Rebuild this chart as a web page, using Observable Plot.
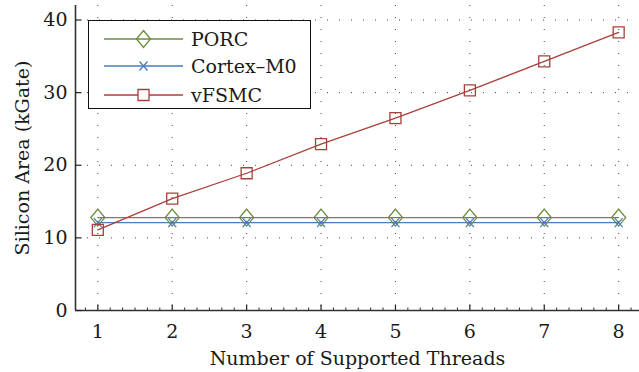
<!DOCTYPE html>
<html>
<head>
<meta charset="utf-8">
<script src="https://cdn.jsdelivr.net/npm/d3@7"></script>
<script src="https://cdn.jsdelivr.net/npm/@observablehq/plot@0.6"></script>
<style>
  body { margin: 0; background: #fff; }
  #wrap { position: relative; width: 639px; height: 372px; font-family: "DejaVu Serif", serif; }
  #legend { position: absolute; left: 88px; top: 20px; width: 221px; height: 87px;
    border: 1.5px solid #111; background: #fff; box-sizing: content-box; }
  .row { position: absolute; left: 0; height: 28px; display: flex; align-items: center; font-size: 19px; color: #1a1a1a; }
  .row svg { display: block; }
</style>
</head>
<body>
<div id="wrap"></div>
<script>
// ---- data ----
const threads = [1, 2, 3, 4, 5, 6, 7, 8];
const seriesNames = ["PORC", "Cortex\u2013M0", "vFSMC"];
const porc   = [12.8, 12.8, 12.8, 12.8, 12.8, 12.8, 12.8, 12.8];
const cortex = [12.1, 12.1, 12.1, 12.1, 12.1, 12.1, 12.1, 12.1];
const vfsmc  = [11.1, 15.4, 18.9, 22.9, 26.5, 30.3, 34.3, 38.3];
const yTicks = [0, 10, 20, 30, 40];
const xLabel = "Number of Supported Threads";
const yLabel = "Silicon Area (kGate)";

const colors = ["#6b8c3c", "#4a7dbd", "#a8403a"];
const values = [porc, cortex, vfsmc];

// custom marker shapes
const diamondSym = {draw(c){c.moveTo(0,-8.5);c.lineTo(7,0);c.lineTo(0,8.5);c.lineTo(-7,0);c.closePath();}};
const timesSym   = {draw(c){c.moveTo(-4,-4.5);c.lineTo(4,4.5);c.moveTo(4,-4.5);c.lineTo(-4,4.5);}};
const squareSym  = {draw(c){c.rect(-5.5,-5.5,11,11);}};
const symbolsArr = [diamondSym, timesSym, squareSym];
const tickUp    = {draw(c){c.moveTo(0,0);c.lineTo(0,-6);}};
const tickUpMin = {draw(c){c.moveTo(0,0);c.lineTo(0,-3);}};
const tickRight = {draw(c){c.moveTo(0,0);c.lineTo(6,0);}};

const rows = seriesNames.map((s, i) => threads.map((t, j) => ({series: s, x: t, y: values[i][j], i})));

const xDomain = [0.7, 8.28];
const minorTicks = d3.range(-1, 45).map(k => 1 + k / 6).filter(v => v > xDomain[0] && v < xDomain[1] && Math.abs(v - Math.round(v)) > 1e-6);

const marks = [
  Plot.gridX(threads, {stroke: "#333", strokeOpacity: 0.9, strokeDasharray: "1,11", strokeWidth: 1}),
  Plot.gridY(yTicks.filter(d => d > 0), {stroke: "#333", strokeOpacity: 0.9, strokeDasharray: "1,11", strokeWidth: 1}),
  Plot.axisX({ticks: threads, tickSize: 0, tickPadding: 14, tickFormat: d => d, label: null}),
  Plot.axisY({ticks: yTicks, tickSize: 0, tickPadding: 8, tickFormat: d => d, label: null}),
  Plot.ruleY([0], {stroke: "#333", strokeWidth: 1.6}),
  Plot.ruleX([xDomain[0]], {stroke: "#333", strokeWidth: 1.6}),
  Plot.dot(threads, {x: d => d, y: 0, symbol: tickUp, stroke: "#222", strokeWidth: 1.2, fill: "none"}),
  Plot.dot(minorTicks, {x: d => d, y: 0, symbol: tickUpMin, stroke: "#333", strokeWidth: 1, fill: "none"}),
  Plot.dot(yTicks, {x: xDomain[0], y: d => d, symbol: tickRight, stroke: "#222", strokeWidth: 1.2, fill: "none"}),
  Plot.text([xLabel], {frameAnchor: "bottom", textAnchor: "middle", lineAnchor: "bottom", dy: 54, fontSize: 19, fill: "#1a1a1a"}),
  Plot.text([yLabel], {frameAnchor: "left", textAnchor: "middle", rotate: -90, lineAnchor: "bottom", dx: -47, fontSize: 19, fill: "#1a1a1a"})
];
rows.forEach((r, i) => {
  marks.push(Plot.line(r, {x: "x", y: "y", stroke: colors[i], strokeWidth: 1.3}));
});
rows.forEach((r, i) => {
  marks.push(Plot.dot(r, {x: "x", y: "y", symbol: symbolsArr[i], stroke: colors[i], strokeWidth: 1.3, fill: "none"}));
});

const chart = Plot.plot({
  width: 639,
  height: 372,
  marginLeft: 75,
  marginRight: 0,
  marginTop: 5,
  marginBottom: 62,
  x: {domain: xDomain},
  y: {domain: [0, 42]},
  style: {fontFamily: "DejaVu Serif, serif", fontSize: "19px", color: "#1a1a1a", background: "#fff", overflow: "visible"},
  marks
});
const wrap = document.getElementById("wrap");
wrap.appendChild(chart);

// legend
const legend = document.createElement("div");
legend.id = "legend";
wrap.appendChild(legend);
const rowTops = [4, 31, 60];
seriesNames.forEach((name, i) => {
  const row = document.createElement("div");
  row.className = "row";
  row.style.top = rowTops[i] + "px";
  const svg = d3.create("svg").attr("width", 102).attr("height", 28);
  svg.append("line").attr("x1", 15).attr("x2", 94).attr("y1", 14).attr("y2", 14)
    .attr("stroke", colors[i]).attr("stroke-width", 1.3);
  svg.append("path").attr("transform", "translate(54.5,14)")
    .attr("d", d3.symbol(symbolsArr[i])()).attr("fill", i === 2 ? "#fff" : "none")
    .attr("stroke", colors[i]).attr("stroke-width", 1.3);
  row.appendChild(svg.node());
  const span = document.createElement("span");
  span.textContent = name;
  row.appendChild(span);
  legend.appendChild(row);
});
</script>
</body>
</html>
